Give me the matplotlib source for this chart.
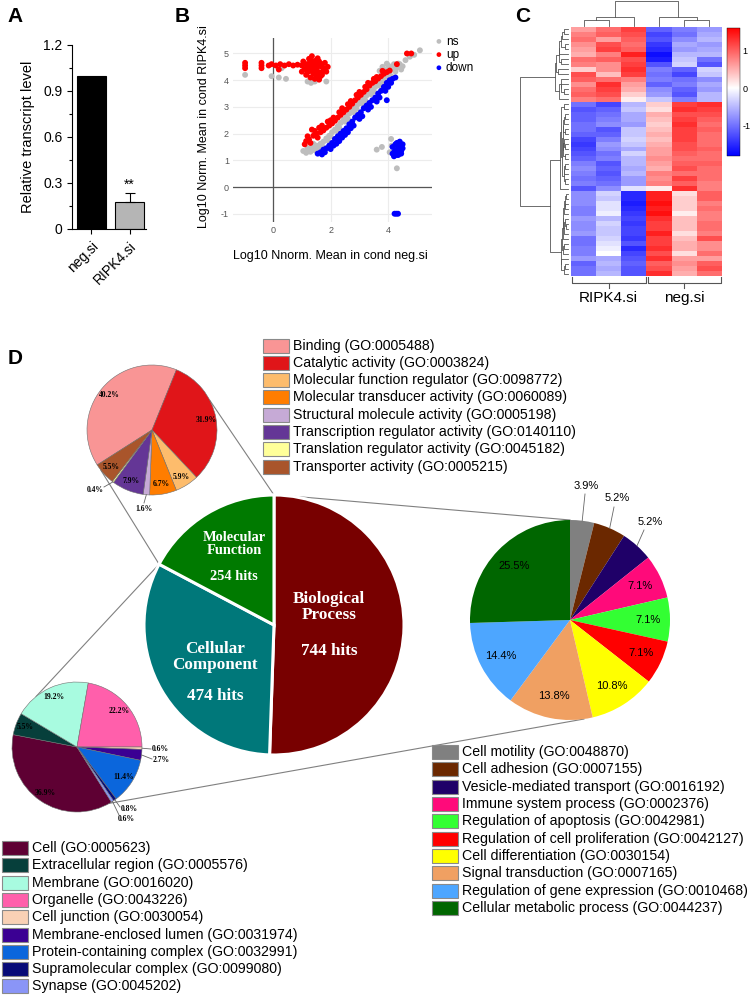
import numpy as np
import matplotlib
matplotlib.use('Agg')
import matplotlib.pyplot as plt
from matplotlib.patches import Rectangle
from matplotlib.colors import LinearSegmentedColormap, Normalize
from matplotlib.ticker import MultipleLocator

plt.rcParams['font.family'] = ['Liberation Sans', 'DejaVu Sans']
plt.rcParams['axes.unicode_minus'] = False
SERIF = ['Liberation Serif', 'DejaVu Serif']

# ======================= DATA =======================
# Panel A
bar_categories = ['neg.si', 'RIPK4.si']
bar_values = [1.0, 0.175]
bar_errors = [0.0, 0.06]

# Panel B (log10 normalised means: x = neg.si, y = RIPK4.si)
ns_pts = [
    (1.05, 1.35), (1.15, 1.28), (1.2, 1.45), (1.3, 1.32), (1.38, 1.5), (1.45, 1.38), (1.5, 1.55),
    (1.6, 1.45), (1.65, 1.62), (1.75, 1.7), (1.85, 1.82), (1.95, 1.92), (2.05, 2.05), (2.15, 2.15),
    (2.25, 2.28), (2.35, 2.4), (2.45, 2.52), (2.55, 2.63), (2.65, 2.75), (2.75, 2.87), (2.85, 2.98),
    (2.95, 3.1), (3.05, 3.2), (3.15, 3.32), (3.25, 3.43), (3.35, 3.55), (3.45, 3.65), (3.55, 3.75),
    (3.65, 3.86), (3.75, 3.96), (3.85, 4.06), (3.95, 4.15), (1.9, 1.75), (2.2, 2.1), (2.5, 2.45),
    (2.8, 2.8), (3.1, 3.12), (3.4, 3.48), (3.7, 3.8), (1.55, 1.32), (1.3, 1.45),
    (1.4, 1.62), (1.7, 1.55), (2.0, 1.9), (2.3, 2.22), (2.6, 2.55), (2.9, 2.92), (3.2, 3.25),
    (3.5, 3.58), (3.8, 3.9), (4.1, 4.15),
    (3.7, 4.35), (3.8, 4.5), (3.9, 4.38), (4.0, 4.55), (4.1, 4.42), (4.2, 4.6), (4.3, 4.48),
    (4.4, 4.6), (4.5, 4.52), (4.05, 4.3), (4.25, 4.32), (3.95, 4.62), (4.15, 4.5), (4.45, 4.4),
    (3.85, 4.25), (4.35, 4.62), (4.6, 4.75), (4.75, 4.88), (4.9, 4.95), (5.1, 5.12),
    (-0.97, 4.2), (-0.05, 4.15), (0.2, 4.1), (0.45, 4.05), (1.2, 3.95), (1.32, 3.9), (1.45, 3.95),
    (1.85, 3.95), (0.3, 4.45),
    (3.6, 1.4), (3.78, 1.5), (4.1, 1.8), (4.05, 1.3), (4.3, 0.7), (4.12, 1.55),
]
up_pts = [
    (1.1, 1.6), (1.15, 1.72), (1.25, 1.78), (1.3, 1.65), (1.4, 1.92), (1.5, 2.0), (1.55, 1.85),
    (1.65, 2.05), (1.75, 2.12), (1.85, 2.22), (1.95, 2.3), (2.05, 2.38), (2.15, 2.48), (2.25, 2.6),
    (2.35, 2.7), (2.45, 2.8), (2.55, 2.9), (2.65, 3.0), (2.75, 3.12), (2.85, 3.25), (2.95, 3.35),
    (3.05, 3.45), (3.15, 3.56), (3.25, 3.66), (3.35, 3.8), (3.45, 3.9), (3.55, 3.96), (3.65, 4.06),
    (3.75, 4.15), (3.85, 4.24), (3.95, 4.3), (4.05, 4.36), (1.35, 2.15), (1.6, 2.22), (1.9, 2.45),
    (2.0, 2.5), (2.4, 2.95), (2.7, 3.22), (3.0, 3.56), (3.3, 3.9), (3.6, 4.12), (4.3, 4.6),
    (4.65, 5.0), (4.8, 5.0),
    (1.2, 1.9), (1.45, 2.1), (1.7, 2.3), (2.1, 2.6), (2.3, 2.8), (2.6, 3.1), (2.9, 3.45),
    (3.2, 3.75), (3.5, 4.05), (3.8, 4.35),
    (-0.97, 4.45), (-0.97, 4.55), (-0.97, 4.65), (-0.4, 4.45), (-0.4, 4.55), (-0.4, 4.65),
    (-0.15, 4.55), (-0.05, 4.6), (0.1, 4.55), (0.25, 4.6), (0.4, 4.55), (0.55, 4.6), (0.7, 4.55),
    (0.85, 4.58), (1.0, 4.55), (0.2, 4.4), (1.05, 4.7), (1.1, 4.42), (1.15, 4.2), (1.2, 4.55),
    (1.25, 4.8), (1.3, 4.35), (1.3, 4.1), (1.35, 4.62), (1.4, 4.45), (1.4, 4.25), (1.45, 4.72),
    (1.5, 4.15), (1.5, 4.42), (1.55, 4.6), (1.6, 4.3), (1.65, 4.52), (1.7, 4.2), (1.75, 4.45),
    (1.8, 4.65), (1.85, 4.32), (1.2, 4.3), (1.35, 4.9), (1.6, 4.02), (1.0, 4.32), (1.45, 4.05),
    (1.25, 4.62), (1.55, 4.82), (1.7, 4.6), (1.15, 4.6), (1.3, 4.75), (1.45, 4.55), (1.6, 4.7),
    (1.75, 4.35), (1.35, 4.45), (1.5, 4.3), (1.25, 4.45), (1.65, 4.15), (1.9, 4.5),
]
down_pts = [
    (1.55, 1.25), (1.65, 1.3), (1.75, 1.4), (1.85, 1.45), (1.95, 1.55), (2.05, 1.65), (2.15, 1.8),
    (2.25, 1.9), (2.35, 2.0), (2.45, 2.1), (2.55, 2.2), (2.65, 2.35), (2.75, 2.45), (2.85, 2.6),
    (2.95, 2.7), (3.05, 2.8), (3.15, 2.95), (3.25, 3.05), (3.35, 3.15), (3.45, 3.25), (3.55, 3.35),
    (3.65, 3.5), (3.75, 3.6), (3.85, 3.75), (3.95, 3.9), (4.05, 4.0), (4.15, 4.05), (4.25, 4.1),
    (1.8, 1.3), (2.1, 1.55), (2.2, 1.62), (2.4, 1.85), (2.6, 2.05), (2.7, 2.2), (3.0, 2.55),
    (3.3, 2.9), (3.6, 3.2), (3.9, 3.6), (3.95, 3.25),
    (1.7, 1.22), (2.0, 1.42), (2.3, 1.72), (2.5, 1.95), (2.8, 2.3), (3.1, 2.65), (3.4, 3.0),
    (3.7, 3.35), (4.0, 3.75), (4.1, 3.9),
    (4.15, 1.5), (4.2, 1.3), (4.25, 1.6), (4.3, 1.4), (4.35, 1.2), (4.4, 1.5), (4.45, 1.35),
    (4.5, 1.6), (4.3, 1.65), (4.4, 1.7), (4.2, 1.15), (4.35, 1.45), (4.45, 1.25), (4.25, 1.35),
    (4.5, 1.45), (4.15, 1.25), (4.3, 1.2),
    (4.22, -1.0), (4.28, -1.0), (4.34, -1.0),
]
scatter_groups = ['ns', 'up', 'down']

# Panel C (row z-scores; columns RIPK4.si x3, neg.si x3)
heat_groups = ['RIPK4.si', 'neg.si']
heat_rows = [
    [0.6, 0.9, 1.2, -1.1, -0.9, -0.7], [0.8, 1.0, 1.1, -1.3, -1.0, -0.6],
    [0.3, 0.7, 1.3, -0.9, -1.1, -0.3], [0.9, 0.6, 1.0, -1.2, -0.8, -0.5],
    [1.1, 0.4, 1.2, -1.0, -1.3, -0.4], [0.7, 1.1, 0.9, -1.4, -0.6, -0.7],
    [0.5, 0.8, 1.4, -1.7, -0.5, -0.5], [0.9, 1.0, 1.1, -1.6, -0.4, -1.0],
    [0.6, 1.2, 1.0, -1.5, -0.7, -0.6], [0.8, 0.7, 1.2, -1.2, -0.3, -1.2],
    [1.0, 0.9, 0.8, -0.9, -1.0, -0.8], [0.7, 1.3, 0.6, -1.1, -0.9, -0.6],
    [0.9, 1.2, 0.5, -0.8, -1.1, -0.7], [1.0, 1.1, 0.3, -0.7, -1.2, -0.5],
    [0.8, 0.9, 0.1, -0.4, -0.9, -0.5],
    [-1.0, -1.3, -0.5, 0.3, 1.2, 1.3], [-1.2, -1.1, -0.4, 0.2, 1.3, 1.2],
    [-1.1, -1.0, -0.6, 0.5, 1.1, 1.1], [-1.3, -0.9, -0.3, 0.4, 1.2, 0.9],
    [-0.9, -1.2, -0.5, 0.6, 1.0, 1.0], [-1.2, -0.8, -0.2, 0.1, 1.3, 0.8],
    [-1.0, -1.1, -0.7, 0.7, 1.2, 0.9], [-1.4, -0.7, -0.4, 0.5, 1.1, 0.9],
    [-1.1, -0.9, -0.6, 0.4, 1.2, 1.0], [-0.9, -1.2, -0.5, 0.8, 0.9, 0.9],
    [-1.0, -0.8, -0.7, 0.3, 1.3, 0.9], [-1.2, -1.0, -0.3, 0.6, 1.0, 0.9],
    [-0.8, -1.1, -0.6, 0.5, 1.1, 0.9], [-1.1, -0.9, -0.5, 0.7, 0.9, 0.9],
    [-1.0, -1.2, -0.4, 0.4, 1.2, 1.0], [-1.3, -0.8, -0.6, 0.6, 1.1, 1.0],
    [-0.9, -1.0, -0.7, 0.8, 1.0, 0.8], [-1.1, -1.1, -0.4, 0.5, 1.2, 0.9],
    [-0.8, -0.3, -1.5, 1.4, 0.2, 1.0], [-0.9, -0.1, -1.4, 1.5, 0.1, 0.8],
    [-0.7, -0.5, -1.3, 1.3, 0.4, 0.8], [-1.0, -0.2, -1.2, 1.2, 0.5, 0.7],
    [-0.8, -0.4, -1.5, 1.4, 0.3, 1.0], [-0.9, 0.0, -1.3, 1.1, 0.2, 0.9],
    [-0.7, -0.6, -1.2, 1.3, 0.6, 0.6], [-1.0, -0.3, -1.4, 1.2, 0.4, 1.1],
    [-0.8, -0.2, -1.6, 1.5, 0.3, 0.8], [-1.1, -0.5, -1.1, 1.0, 0.7, 1.0],
    [-0.9, -0.1, -1.5, 1.3, 0.5, 0.7], [-0.7, -0.4, -1.3, 1.4, 0.2, 0.8],
    [-1.0, -0.6, -1.2, 1.1, 0.6, 1.1], [-0.8, -0.3, -1.4, 1.2, 0.4, 0.9],
    [-0.9, -0.2, -1.5, 1.4, 0.3, 0.9], [-1.0, -0.5, -1.2, 1.3, 0.5, 0.9],
    [-0.8, -0.4, -1.3, 1.2, 0.4, 0.9],
]

# Panel D
go_names = ['Biological\nProcess', 'Cellular\nComponent', 'Molecular\nFunction']
go_hits = [744, 474, 254]

mf_labels = ['Binding (GO:0005488)', 'Catalytic activity (GO:0003824)',
             'Molecular function regulator (GO:0098772)', 'Molecular transducer activity (GO:0060089)',
             'Structural molecule activity (GO:0005198)', 'Transcription regulator activity (GO:0140110)',
             'Translation regulator activity (GO:0045182)', 'Transporter activity (GO:0005215)']
mf_values = [40.2, 31.9, 5.9, 6.7, 1.6, 7.9, 0.4, 5.5]

cc_labels = ['Cell (GO:0005623)', 'Extracellular region (GO:0005576)', 'Membrane (GO:0016020)',
             'Organelle (GO:0043226)', 'Cell junction (GO:0030054)', 'Membrane-enclosed lumen (GO:0031974)',
             'Protein-containing complex (GO:0032991)', 'Supramolecular complex (GO:0099080)',
             'Synapse (GO:0045202)']
cc_values = [36.9, 5.5, 19.2, 22.2, 0.6, 2.7, 11.4, 0.8, 0.6]

bp_labels = ['Cell motility (GO:0048870)', 'Cell adhesion (GO:0007155)',
             'Vesicle-mediated transport (GO:0016192)', 'Immune system process (GO:0002376)',
             'Regulation of apoptosis (GO:0042981)', 'Regulation of cell proliferation (GO:0042127)',
             'Cell differentiation (GO:0030154)', 'Signal transduction (GO:0007165)',
             'Regulation of gene expression (GO:0010468)', 'Cellular metabolic process (GO:0044237)']
bp_values = [3.9, 5.2, 5.2, 7.1, 7.1, 7.1, 10.8, 13.8, 14.4, 25.5]

# ======================= STYLE =======================
go_colors = ['#780000', '#00787a', '#007a00']
mf_colors = ['#f99595', '#e01519', '#fdbc6c', '#ff7d00', '#c6aad6', '#643696', '#ffff99', '#a9552b']
cc_colors = ['#5e0033', '#063f3b', '#a8fbe0', '#ff5fab', '#f9d1b5', '#3b0093', '#0b66dc', '#070b78', '#8a95f7']
bp_colors = ['#808080', '#6b2800', '#1f0068', '#ff0a7a', '#33ff33', '#ff0000', '#ffff00', '#f0a062', '#4da6ff', '#006600']

W, H = 751, 996
fig = plt.figure(figsize=(W / 100, H / 100), dpi=100)


def frect(x0, y0, x1, y1):
    return [x0 / W, 1 - y1 / H, (x1 - x0) / W, (y1 - y0) / H]


def letter(x, y, s):
    fig.text(x / W, 1 - y / H, s, fontsize=15, fontweight='bold', ha='center', va='center')


letter(15, 16, 'A')
letter(182, 16, 'B')
letter(523, 16, 'C')
letter(15, 358, 'D')

# ---------------- Panel A ----------------
axA = fig.add_axes(frect(72, 45, 146, 229))
xa = np.arange(len(bar_categories))
axA.bar(xa, bar_values, width=0.76, color=['black', '#b5b5b5'], edgecolor='black', linewidth=0.8)
axA.errorbar(xa[1:], bar_values[1:], yerr=[[0], bar_errors[1:]], fmt='none', ecolor='black',
             elinewidth=0.8, capsize=3.5, capthick=0.8)
axA.text(xa[1], bar_values[1] + bar_errors[1] + 0.005, '**', ha='center', va='bottom', fontsize=10)
axA.set_xlim(-0.51, 1.43)
axA.set_ylim(0, 1.2)
axA.set_yticks([0, 0.3, 0.6, 0.9, 1.2])
axA.set_yticklabels(['0', '0.3', '0.6', '0.9', '1.2'])
axA.yaxis.set_minor_locator(MultipleLocator(0.15))
axA.set_xticks(xa)
axA.set_xticklabels(bar_categories, rotation=45, ha='right', rotation_mode='anchor')
axA.tick_params(axis='both', labelsize=10, length=3.5, width=0.8, direction='out')
axA.tick_params(axis='y', which='minor', length=2, width=0.8)
for s in ['top', 'right']:
    axA.spines[s].set_visible(False)
for s in ['left', 'bottom']:
    axA.spines[s].set_linewidth(0.8)
axA.set_ylabel('Relative transcript level', fontsize=10.5)
axA.yaxis.set_label_coords(-0.5, 0.5)

# ---------------- Panel B ----------------
axB = fig.add_axes(frect(233, 38, 432, 222))
axB.set_xlim(-1.39, 5.52)
axB.set_ylim(-1.31, 5.58)
axB.set_xticks([0, 2, 4])
axB.set_yticks([-1, 0, 1, 2, 3, 4, 5])
axB.grid(color='#ececec', linewidth=0.8)
axB.set_axisbelow(True)
axB.axhline(0, color='#555555', lw=0.9, zorder=1)
axB.axvline(0, color='#555555', lw=0.9, zorder=1)
for s in axB.spines.values():
    s.set_visible(False)
axB.tick_params(length=0, labelsize=6.5, labelcolor='#555555', pad=3)
for name, pts, col in zip(scatter_groups, [ns_pts, up_pts, down_pts], ['#bdbdbd', '#ff0000', '#0000ff']):
    px, py = zip(*pts)
    axB.scatter(px, py, s=18, color=col, edgecolors='none', label=name, zorder=3)
axB.legend(loc='upper left', bbox_to_anchor=(1.005, 1.02), frameon=False, fontsize=8.5,
           handletextpad=0.2, labelspacing=0.1, borderaxespad=0, borderpad=0.1,
           handlelength=0.8, markerscale=0.8)
axB.set_ylabel('Log10 Norm. Mean in cond RIPK4.si', fontsize=9)
axB.yaxis.set_label_coords(-0.115, 0.52)
fig.text(330 / W, 1 - 256 / H, 'Log10 Nnorm. Mean in cond neg.si', fontsize=9, ha='center', va='center')


# ---------------- Panel C ----------------
def cluster(X):
    n = len(X)
    D = np.sqrt(((X[:, None, :] - X[None, :, :]) ** 2).sum(-1))
    dm = {(i, j): D[i, j] for i in range(n) for j in range(i + 1, n)}
    size = {i: 1 for i in range(n)}
    minleaf = {i: i for i in range(n)}
    height = {i: 0.0 for i in range(n)}
    kids = {}
    active = set(range(n))
    nid = n
    while len(active) > 1:
        a, b = min(dm, key=dm.get)
        d = dm[(a, b)]
        for k in active:
            if k in (a, b):
                continue
            dka = dm[(min(k, a), max(k, a))]
            dkb = dm[(min(k, b), max(k, b))]
            dm[(k, nid)] = (size[a] * dka + size[b] * dkb) / (size[a] + size[b])
        dm = {key: v for key, v in dm.items() if a not in key and b not in key}
        active -= {a, b}
        active.add(nid)
        size[nid] = size[a] + size[b]
        minleaf[nid] = min(minleaf[a], minleaf[b])
        height[nid] = d
        kids[nid] = (a, b) if minleaf[a] < minleaf[b] else (b, a)
        nid += 1
    root = nid - 1

    def leaves(node):
        if node not in kids:
            return [node]
        return leaves(kids[node][0]) + leaves(kids[node][1])

    order = leaves(root)
    pos = {leaf: float(i) for i, leaf in enumerate(order)}
    for node in range(n, root + 1):
        c1, c2 = kids[node]
        pos[node] = (pos[c1] + pos[c2]) / 2
    return kids, height, order, pos, root


HM = np.array(heat_rows)
r_kids, r_h, r_order, r_pos, r_root = cluster(HM)
c_kids, c_h, c_order, c_pos, c_root = cluster(HM.T)

cmap = LinearSegmentedColormap.from_list('bwr2', [(0, '#0000ff'), (1.8 / 3.4, '#ffffff'), (1, '#ff0000')])
norm = Normalize(vmin=-1.8, vmax=1.6)

axC = fig.add_axes(frect(571, 27, 722, 276))
im = axC.imshow(HM[r_order][:, c_order], aspect='auto', cmap=cmap, norm=norm, interpolation='nearest')
axC.set_xticks([])
axC.set_yticks([])
for s in axC.spines.values():
    s.set_visible(False)

dcol = '#555555'
axR = fig.add_axes(frect(520, 27, 571, 276))
for node, (c1, c2) in r_kids.items():
    h = r_h[node]
    axR.plot([r_h[c1], h, h, r_h[c2]], [r_pos[c1], r_pos[c1], r_pos[c2], r_pos[c2]],
             color=dcol, lw=0.6, clip_on=False)
axR.set_xlim(r_h[r_root], -0.07 * r_h[r_root])
axR.set_ylim(len(HM) - 0.5, -0.5)
axR.axis('off')

axT = fig.add_axes(frect(571, 1, 722, 26))
for node, (c1, c2) in c_kids.items():
    h = c_h[node]
    axT.plot([c_pos[c1], c_pos[c1], c_pos[c2], c_pos[c2]], [c_h[c1], h, h, c_h[c2]],
             color=dcol, lw=0.6, clip_on=False)
axT.set_xlim(-0.5, HM.shape[1] - 0.5)
axT.set_ylim(0, c_h[c_root])
axT.axis('off')

cax = fig.add_axes(frect(727, 28, 740, 156))
cb = fig.colorbar(im, cax=cax, ticks=[-1, 0, 1])
cb.ax.set_yticklabels(['-1', '0', '1'])
cb.ax.tick_params(labelsize=6.5, length=0, pad=2)
cb.outline.set_linewidth(0.3)

# ---------------- Overlay (pixel coordinates) ----------------
axd = fig.add_axes([0, 0, 1, 1], zorder=5)
axd.patch.set_alpha(0)

# group brackets under the heatmap
ncol = HM.shape[1]
col_w = (722 - 571) / ncol
for g, name in enumerate(heat_groups):
    x0 = 571 + g * 3 * col_w + 1
    x1 = 571 + (g + 1) * 3 * col_w - 1
    xc = (x0 + x1) / 2
    axd.plot([x0, x0, x1, x1], [H - 277, H - 283, H - 283, H - 277], color=dcol, lw=0.8)
    axd.plot([xc, xc], [H - 283, H - 288], color=dcol, lw=0.8)
    axd.text(xc, H - 298, name, ha='center', va='center', fontsize=11)


def edge_pt(c, r, ang):
    a = np.deg2rad(ang)
    return (c[0] + r * np.cos(a), H - c[1] + r * np.sin(a))


GO_C, GO_R = (274, 625), 130
MF_C, MF_R = (152, 430), 65
CC_C, CC_R = (77, 747), 65
BP_C, BP_R = (570, 620), 100

line_kw = dict(color='#808080', lw=0.8, zorder=0)

go_w, _ = axd.pie(go_hits, colors=go_colors, startangle=90, counterclock=False,
                  center=(GO_C[0], H - GO_C[1]), radius=GO_R,
                  wedgeprops=dict(edgecolor='white', linewidth=2.2), frame=True)
mf_w, _ = axd.pie(mf_values, colors=mf_colors, startangle=212.5, counterclock=False,
                  center=(MF_C[0], H - MF_C[1]), radius=MF_R,
                  wedgeprops=dict(edgecolor='#707070', linewidth=0.4), frame=True)
cc_w, _ = axd.pie(cc_values, colors=cc_colors, startangle=-58, counterclock=False,
                  center=(CC_C[0], H - CC_C[1]), radius=CC_R,
                  wedgeprops=dict(edgecolor='#707070', linewidth=0.4), frame=True)
bp_w, _ = axd.pie(bp_values, colors=bp_colors, startangle=90, counterclock=False,
                  center=(BP_C[0], H - BP_C[1]), radius=BP_R,
                  wedgeprops=dict(linewidth=0), frame=True)

# connecting lines between pies
conn = [
    (edge_pt(MF_C, MF_R, 27), edge_pt(GO_C, GO_R, go_w[2].theta1)),
    (edge_pt(MF_C, MF_R, 218), edge_pt(GO_C, GO_R, go_w[2].theta2)),
    (edge_pt(CC_C, CC_R, 129), edge_pt(GO_C, GO_R, go_w[1].theta1)),
    (edge_pt(CC_C, CC_R, -60), edge_pt(BP_C, BP_R, -82)),
    (edge_pt(GO_C, GO_R, 87), edge_pt(BP_C, BP_R, 90)),
]
for p0, p1 in conn:
    axd.plot([p0[0], p1[0]], [p0[1], p1[1]], **line_kw)

# central pie labels
go_name_pos = [(329, 607), (215, 657), (234, 544)]
go_hit_pos = [(329, 651), (215, 696), (234, 576)]
go_fs = [12.3, 12.3, 10.4]
for name, hits, pn, ph, fs in zip(go_names, go_hits, go_name_pos, go_hit_pos, go_fs):
    axd.text(pn[0], H - pn[1], name, ha='center', va='center', color='white', fontsize=fs,
             family=SERIF, fontweight='bold', linespacing=1.05)
    axd.text(ph[0], H - ph[1], f'{hits} hits', ha='center', va='center', color='white', fontsize=fs,
             family=SERIF, fontweight='bold')


def pie_labels(wedges, values, c, r, dist, outside, fkw):
    for i, (w, v) in enumerate(zip(wedges, values)):
        mid = (w.theta1 + w.theta2) / 2
        if i in outside:
            tx, ty, lx, ly = outside[i]
            e = edge_pt(c, r, mid)
            axd.plot([e[0], lx], [e[1], H - ly], color='#666666', lw=0.6)
            axd.text(tx, H - ty, f'{v}%', ha='center', va='center', **fkw)
        else:
            p = edge_pt(c, r * dist, mid)
            axd.text(p[0], p[1], f'{v}%', ha='center', va='center', **fkw)


small_serif = dict(fontsize=5.5, family=SERIF, fontweight='bold', color='black')
pie_labels(mf_w, mf_values, MF_C, MF_R, 0.85, {4: (144, 509, 144, 503), 6: (95, 490, 104, 487)}, small_serif)
pie_labels(cc_w, cc_values, CC_C, CC_R, 0.85,
           {4: (160, 749, 151, 749), 5: (161, 760, 152, 759), 7: (129, 809, 120, 807), 8: (126, 819, 119, 815)},
           small_serif)
pie_labels(bp_w, bp_values, BP_C, BP_R, 0.78,
           {0: (586, 486, 585, 494), 1: (617, 498, 614, 507), 2: (650, 522, 644, 530)},
           dict(fontsize=8, color='black'))


def legend_block(labels, colors, box_x0, text_x, y0, dy):
    for i, (lab, col) in enumerate(zip(labels, colors)):
        yc = y0 + i * dy
        axd.add_patch(Rectangle((box_x0, H - yc - 7), 26, 14, facecolor=col, edgecolor='#8a8a8a', lw=0.8))
        axd.text(text_x, H - yc, lab, ha='left', va='center', fontsize=10.2)


legend_block(mf_labels, mf_colors, 263, 293, 345.5, 17.3)
legend_block(cc_labels, cc_colors, 2, 32, 848, 17.3)
legend_block(bp_labels, bp_colors, 432, 462, 752, 17.33)

axd.set_aspect('auto')
axd.set_xlim(0, W)
axd.set_ylim(0, H)
axd.axis('off')

fig.savefig('out.png', dpi=100)
